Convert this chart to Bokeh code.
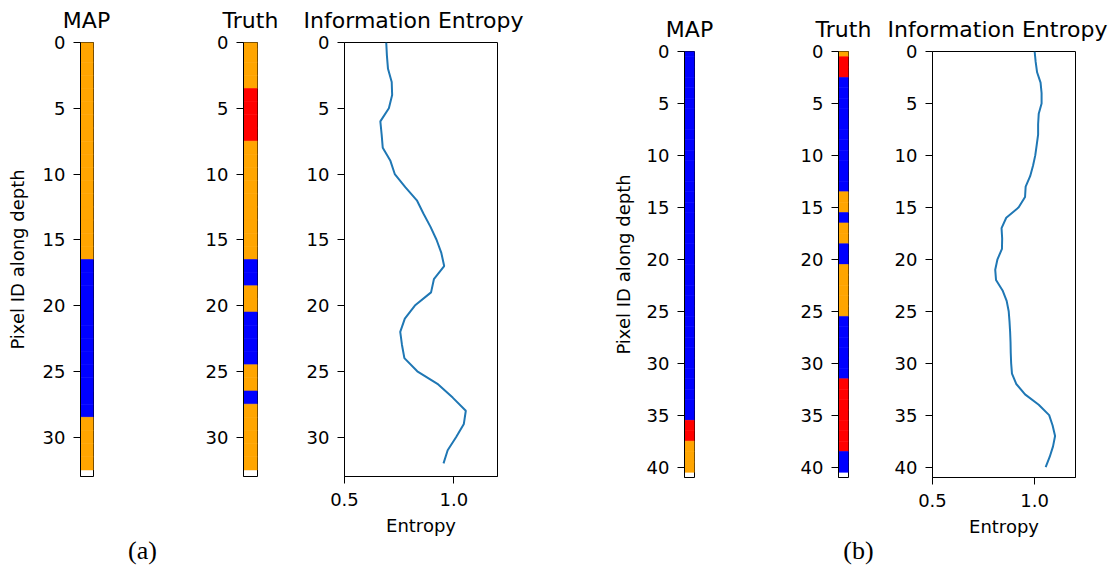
from bokeh.plotting import figure
from bokeh.layouts import row, column
from bokeh.models import Range1d, FixedTicker, PrintfTickFormatter
from bokeh.core.properties import value
from bokeh.embed import file_html
from bokeh.resources import INLINE

# ---------------- data ----------------
# class codes: 0 = orange, 1 = blue, 2 = red
class_colors = ["#FFA500", "#0000FF", "#FF0000"]

map_a = [0, 0, 0, 0, 0, 0, 0, 0, 0, 0, 0, 0, 0, 0, 0, 0, 0,
         1, 1, 1, 1, 1, 1, 1, 1, 1, 1, 1, 1,
         0, 0, 0, 0]
truth_a = [0, 0, 0, 0, 2, 2, 2, 2, 0, 0, 0, 0, 0, 0, 0, 0, 0,
           1, 1, 0, 0, 1, 1, 1, 1, 0, 0, 1, 0, 0, 0, 0, 0]
entropy_a = [0.691, 0.694, 0.699, 0.716, 0.718, 0.703, 0.664, 0.670, 0.675,
             0.710, 0.730, 0.778, 0.831, 0.861, 0.893, 0.921, 0.943, 0.956,
             0.909, 0.896, 0.822, 0.776, 0.755, 0.763, 0.774, 0.833, 0.929,
             0.995, 1.055, 1.046, 1.011, 0.972, 0.953]

map_b = [1, 1, 1, 1, 1, 1, 1, 1, 1, 1, 1, 1, 1, 1, 1, 1, 1, 1,
         1, 1, 1, 1, 1, 1, 1, 1, 1, 1, 1, 1, 1, 1, 1, 1, 1, 1,
         2, 2, 0, 0, 0]
truth_b = [0, 2, 2, 1, 1, 1, 1, 1, 1, 1, 1, 1, 1, 1, 0, 0, 1, 0, 0, 1, 1,
           0, 0, 0, 0, 0, 1, 1, 1, 1, 1, 1, 2, 2, 2, 2, 2, 2, 2, 1, 1]
entropy_b = [1.000, 1.005, 1.012, 1.029, 1.034, 1.034, 1.020, 1.017, 1.017,
             1.010, 1.003, 0.992, 0.978, 0.956, 0.953, 0.922, 0.861, 0.838,
             0.841, 0.840, 0.818, 0.807, 0.811, 0.843, 0.863, 0.873, 0.877,
             0.880, 0.882, 0.883, 0.885, 0.889, 0.910, 0.953, 1.020, 1.071,
             1.088, 1.100, 1.090, 1.074, 1.054]

yticks_a = [0, 5, 10, 15, 20, 25, 30]
yticks_b = [0, 5, 10, 15, 20, 25, 30, 35, 40]
xticks_entropy = [0.5, 1.0]

titles = ["MAP", "Truth", "Information Entropy"]
ylabel = "Pixel ID along depth"
xlabel = "Entropy"
panel_labels = ["(a)", "(b)"]

FONT = "DejaVu Sans"
TICK = "18px"


def style_yaxis(p, yticks):
    ya = p.yaxis[0]
    ya.ticker = FixedTicker(ticks=yticks)
    ya.major_label_text_font = FONT
    ya.major_label_text_font_size = TICK
    ya.major_label_text_color = "black"
    ya.major_tick_out = 7
    ya.major_tick_in = 0
    ya.minor_tick_out = 0
    ya.minor_tick_in = 0
    ya.major_label_standoff = 8
    ya.axis_line_color = "black"
    ya.major_tick_line_color = "black"
    return ya


def base_fig(width, height, left, right, top, fh, nrows, yticks):
    p = figure(width=width, height=height, min_border_left=left,
               min_border_right=right, min_border_top=top,
               min_border_bottom=height - top - fh,
               output_backend="svg", toolbar_location=None,
               y_range=Range1d(nrows, 0), frame_align=False)
    p.grid.visible = False
    p.outline_line_color = "black"
    p.outline_line_width = 1
    p.background_fill_color = "white"
    p.border_fill_color = "white"
    style_yaxis(p, yticks)
    return p


def strip(classes, width, height, left, right, top, fh, yticks, label_standoff=None):
    n = len(classes)
    p = base_fig(width, height, left, right, top, fh, n, yticks)
    p.x_range = Range1d(-0.5, 0.5)
    p.xaxis.visible = False
    depth = list(range(n))
    cols = [class_colors[c] for c in classes]
    p.quad(left=-0.5, right=0.5,
           top=[d - 0.5 for d in depth], bottom=[d + 0.5 for d in depth],
           fill_color=cols, line_color=cols, line_width=0.6)
    if label_standoff is not None:
        ya = p.yaxis[0]
        ya.axis_label = ylabel
        ya.axis_label_text_font = FONT
        ya.axis_label_text_font_size = TICK
        ya.axis_label_text_font_style = "normal"
        ya.axis_label_text_color = "black"
        ya.axis_label_standoff = label_standoff
    return p


def entropy_fig(vals, width, height, left, right, top, fh, yticks):
    p = base_fig(width, height, left, right, top, fh, len(vals), yticks)
    p.x_range = Range1d(0.5, 1.2)
    depth = list(range(len(vals)))
    p.line(vals, depth, line_color="#1f77b4", line_width=2)
    xa = p.xaxis[0]
    xa.ticker = FixedTicker(ticks=xticks_entropy)
    xa.formatter = PrintfTickFormatter(format="%.1f")
    xa.major_label_text_font = FONT
    xa.major_label_text_font_size = TICK
    xa.major_label_text_color = "black"
    xa.major_tick_out = 7
    xa.major_tick_in = 0
    xa.minor_tick_out = 0
    xa.minor_tick_in = 0
    xa.major_label_standoff = 9
    xa.axis_label = xlabel
    xa.axis_label_text_font = FONT
    xa.axis_label_text_font_size = TICK
    xa.axis_label_text_font_style = "normal"
    xa.axis_label_text_color = "black"
    xa.axis_label_standoff = 6
    xa.axis_line_color = "black"
    return p


def text_strip(width, height, xs, ys, texts, font, size):
    p = figure(width=width, height=height, x_range=Range1d(0, width),
               y_range=Range1d(height, 0), min_border=0,
               min_border_left=0, min_border_right=0,
               min_border_top=0, min_border_bottom=0,
               x_axis_type=None, y_axis_type=None, frame_align=False,
               output_backend="svg", toolbar_location=None)
    p.grid.visible = False
    p.outline_line_color = None
    p.text(x=xs, y=ys, text=texts, text_font=value(font), text_font_size=size,
           text_align="center", text_baseline="alphabetic", text_color="black")
    return p


# ---------------- panel (a) ----------------
f1 = strip(map_a, 165, 490, 80, 72, 9, 434, yticks_a, label_standoff=12)
la = text_strip(165, 50, [142], [27], panel_labels[:1], "Liberation Serif", "26px")
f2 = strip(truth_a, 122, 540, 78, 30, 9, 434, yticks_a)
f3 = entropy_fig(entropy_a, 273, 540, 57, 63, 9, 434, yticks_a)
ta = text_strip(560, 33, [86, 250, 413], [20, 20, 20], titles, FONT, "22px")
col_a = column(ta, row(column(f1, la, spacing=0), f2, f3, spacing=0), spacing=0)

# ---------------- panel (b) ----------------
f4 = strip(map_b, 200, 531, 124, 66, 9, 426, yticks_b, label_standoff=10)
f5 = strip(truth_b, 116, 472, 78, 28, 9, 426, yticks_b)
lb = text_strip(116, 59, [98], [36], panel_labels[1:], "Liberation Serif", "26px")
f6 = entropy_fig(entropy_b, 241, 531, 56, 42, 9, 426, yticks_b)
tb = text_strip(557, 42, [129, 283, 437], [29, 29, 29], titles, FONT, "22px")
col_b = column(tb, row(f4, column(f5, lb, spacing=0), f6, spacing=0), spacing=0)

layout = row(col_a, col_b, spacing=0)

open("out.html", "w").write(file_html(layout, INLINE))
